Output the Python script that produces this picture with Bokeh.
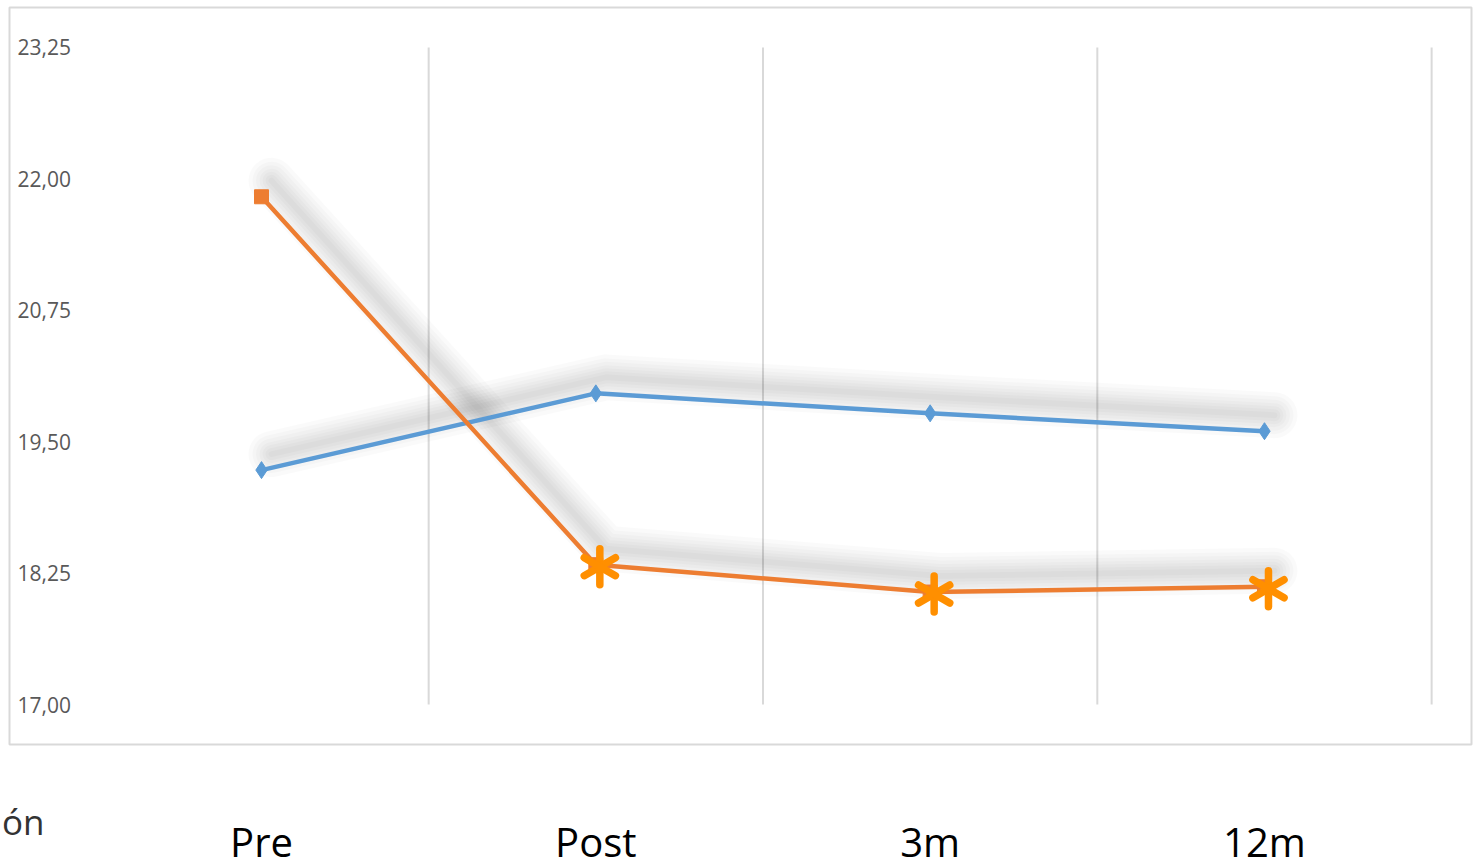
import numpy as np
from bokeh.plotting import figure
from bokeh.models import Range1d, BoxAnnotation
from bokeh.embed import file_html
from bokeh.resources import INLINE
from bokeh.core.properties import value

# ---- data ----
categories = ["Pre", "Post", "3m", "12m"]
blue_values = [19.23, 19.96, 19.77, 19.60]
orange_values = [21.83, 18.33, 18.07, 18.12]
star_flags = [False, True, True, True]
y_ticks = [17.00, 18.25, 19.50, 20.75, 22.00, 23.25]
y_tick_labels = ["17,00", "18,25", "19,50", "20,75", "22,00", "23,25"]
grid_positions = [1, 2, 3, 4]
cut_label = "ón"

# ---- layout constants (pixels) ----
W, H = 1474, 867
x_lo, x_hi = -0.2807, 4.1282
y_lo, y_hi = 15.4494, 23.6971
sx = W / (x_hi - x_lo)
sy = H / (y_hi - y_lo)

BLUE = "#5b9bd5"
ORANGE = "#ed7d31"
STAR = "#ff8f00"
GRID = "#d9d9d9"
FONT = "Open Sans"

xs = np.arange(len(categories)) + 0.5
blue = np.array(blue_values)
orange = np.array(orange_values)

p = figure(width=W, height=H, output_backend="svg", toolbar_location=None,
           x_range=Range1d(x_lo, x_hi), y_range=Range1d(y_lo, y_hi),
           x_axis_location=None, y_axis_location=None,
           min_border=0)
p.grid.visible = False
p.outline_line_color = None
p.background_fill_color = "white"
p.border_fill_color = "white"

# chart-area box
p.add_layout(BoxAnnotation(left=x_lo + 9 / sx, right=x_hi - 3 / sx,
                           top=y_hi - 7 / sy, bottom=y_lo + 123 / sy,
                           fill_alpha=0, line_color=GRID, line_alpha=1, line_width=2))

# vertical gridlines
p.segment(x0=grid_positions, x1=grid_positions,
          y0=[y_ticks[0]] * len(grid_positions), y1=[y_ticks[-1]] * len(grid_positions),
          line_color=GRID, line_width=2)

# y tick labels inside the box
p.text(x=[x_lo] * len(y_ticks), y=y_ticks, text=y_tick_labels, x_offset=17,
       text_baseline="middle", text_align="left", text_font=value(FONT),
       text_font_size="21px", text_color="#595959")

# soft shadows
dx, dy = 10 / sx, 16 / sy
for vals in (blue, orange):
    for w in [46, 38, 31, 24, 18, 12, 6]:
        p.line(xs + dx, vals + dy, line_width=w, line_color="black", line_alpha=0.02,
               line_join="round", line_cap="round")

# blue series
p.line(xs, blue, line_color=BLUE, line_width=4.5)
p.scatter(xs, blue, marker="diamond", size=17, fill_color=BLUE, line_color=BLUE)

# orange series
p.line(xs, orange, line_color=ORANGE, line_width=4.5)
p.scatter(xs, orange, marker="square", size=14, fill_color=ORANGE, line_color=ORANGE)

# asterisks
sel = np.array(star_flags)
ax = xs[sel] + 4 / sx
ay = orange[sel] - 2 / sy
for ang in [90, 30, -30]:
    p.scatter(ax, ay, marker="dash", size=36, angle=ang, angle_units="deg",
              line_color=STAR, line_width=7.5, line_cap="round")

# category labels below the box
p.text(x=xs, y=[y_lo] * len(categories), text=categories, y_offset=-26,
       text_align="center", text_baseline="alphabetic",
       text_font=value(FONT), text_font_size="40px", text_color="black")

# word fragment at the left edge
p.text(x=[x_lo], y=[y_lo], text=[cut_label], x_offset=44, y_offset=-46,
       text_align="right", text_baseline="alphabetic",
       text_font=value(FONT), text_font_size="35px", text_color="#333333")

open("out.html", "w").write(file_html(p, INLINE))
